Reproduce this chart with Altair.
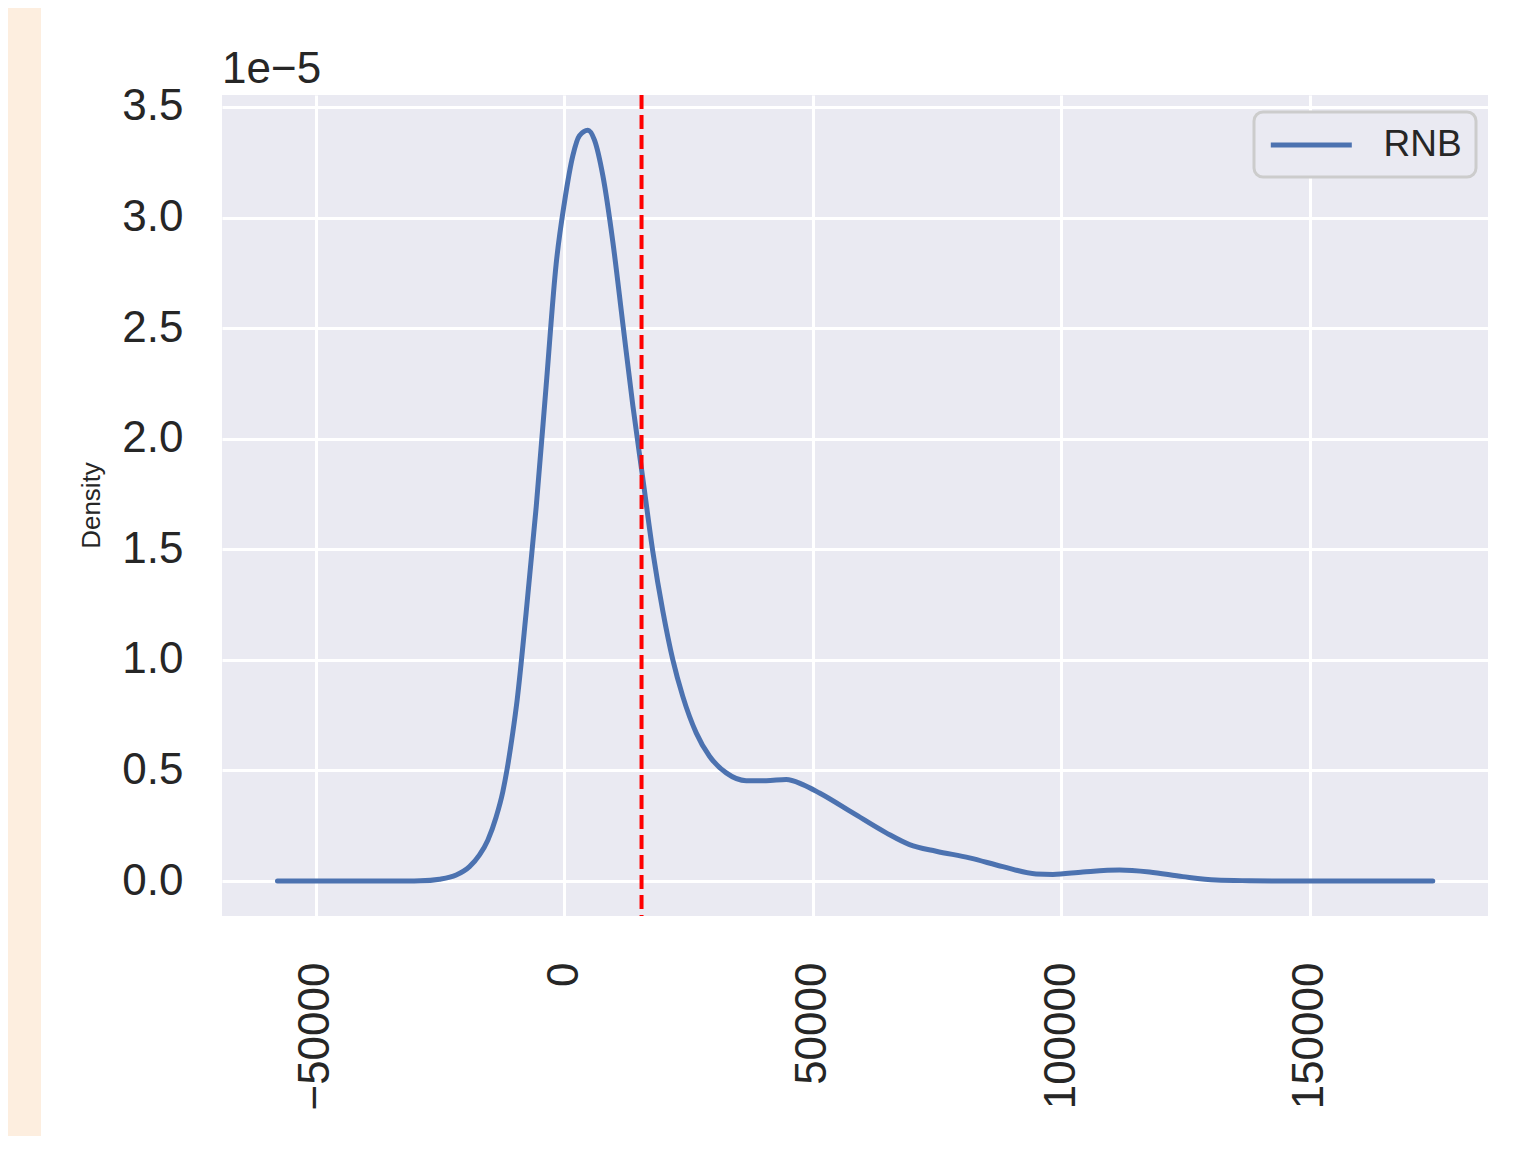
import altair as alt
import pandas as pd

# ---- data ----
rnb_x = [-57750, -45000, -37000, -29000, -25150, -21790, -19110, -17100, -15430,
         -13750, -12410, -11600, -10390, -9520, -7710, -5700, -3690, -1680, 0, 1677,
         3000, 4695, 6036, 7713, 9725, 11737, 13750, 15760, 17770, 19790, 21800,
         23800, 26500, 29180, 32540, 36560, 40590, 44610, 47960, 51310, 58020,
         64730, 69420, 74790, 81490, 88200, 94900, 98260, 104300, 111670, 117700,
         124400, 131100, 137800, 145000, 160000, 174700]
rnb_density_1e5 = [0.0, 0.0, 0.0, 0.001, 0.008, 0.027, 0.065, 0.118, 0.185,
                   0.29, 0.404, 0.499, 0.674, 0.82, 1.215, 1.69, 2.24, 2.79, 3.07, 3.28,
                   3.37, 3.395, 3.35, 3.19, 2.89, 2.52, 2.15, 1.82, 1.49, 1.22, 1.0,
                   0.835, 0.67, 0.564, 0.489, 0.454, 0.454, 0.459, 0.436, 0.398, 0.308,
                   0.218, 0.165, 0.135, 0.105, 0.065, 0.032, 0.030, 0.041, 0.050, 0.041,
                   0.020, 0.0045, 0.0015, 0.0, 0.0, 0.0]
series_name = "RNB"
mean_value = 15500
x_ticks = [-50000, 0, 50000, 100000, 150000]
y_ticks = [0.0, 0.5, 1.0, 1.5, 2.0, 2.5, 3.0, 3.5]
y_exponent_label = "1e\u22125"

FONT = "Liberation Sans"
TXT = "#262626"
BLUE = "#4C72B0"

df = pd.DataFrame({"x": rnb_x, "density": rnb_density_1e5, "series": series_name})
mean_df = pd.DataFrame({"x": [mean_value]})
one = pd.DataFrame({"k": [0]})

W, H = 1266, 821
PAD_B = 220

xscale = alt.Scale(domain=[-68913, 185815], nice=False, zero=False)
yscale = alt.Scale(domain=[-0.158, 3.554], nice=False, zero=False)

# legend line symbol: custom path from -1 to +4 (in units of r = sqrt(size)/2)
R = 16.2
line = alt.Chart(df).mark_line(strokeWidth=5, strokeCap="round", strokeJoin="round",
                               interpolate="monotone").encode(
    x=alt.X("x:Q", scale=xscale,
            axis=alt.Axis(values=x_ticks, format="d", title=None, labelAngle=270,
                          labelPadding=46, labelFontSize=44, grid=True)),
    y=alt.Y("density:Q", scale=yscale,
            axis=alt.Axis(values=y_ticks, format=".1f", title="Density",
                          labelPadding=39, labelFontSize=44, titleFontSize=26,
                          titleAngle=270, titleX=-131, titleY=410,
                          titleAlign="center", titleBaseline="middle", grid=True)),
    color=alt.Color("series:N", scale=alt.Scale(domain=[series_name], range=[BLUE]),
                    legend=alt.Legend(title=None, orient="none", legendX=1032, legendY=17,
                                      symbolType="M-1,0H4", symbolSize=(2 * R) ** 2,
                                      symbolStrokeWidth=5, labelFontSize=37,
                                      labelOffset=3 * R + 29, padding=14,
                                      strokeColor="#CCCCCC", fillColor="#EAEAF2",
                                      cornerRadius=9)),
)

mean_rule = alt.Chart(mean_df).mark_rule(color="#FF0000", strokeWidth=4,
                                         strokeDash=[14, 6]).encode(
    x=alt.X("x:Q", scale=xscale)
)

exp_text = alt.Chart(one).mark_text(text=y_exponent_label, align="left",
                                    baseline="alphabetic", fontSize=44,
                                    font=FONT, color=TXT).encode(
    x=alt.value(0), y=alt.value(-12)
)

peach = alt.Chart(one).mark_rect(color="#FDEEDF").encode(
    x=alt.value(-214), x2=alt.value(-181), y=alt.value(-87), y2=alt.value(H + PAD_B)
)

chart = alt.layer(peach, line, mean_rule, exp_text).properties(
    width=W, height=H,
    autosize=alt.AutoSizeParams(type="none"),
    padding={"left": 214, "top": 87, "right": 13, "bottom": PAD_B},
    background="white",
).configure_view(
    fill="#EAEAF2", strokeWidth=0
).configure_axis(
    domain=False, ticks=False, tickSize=0, gridColor="white", gridWidth=3,
    labelFont=FONT, titleFont=FONT, labelColor=TXT, titleColor=TXT,
    titleFontWeight="normal"
).configure_legend(
    labelFont=FONT, labelColor=TXT, strokeWidth=3
)

chart.save("out.html", embed_options={"renderer": "svg", "actions": False})
